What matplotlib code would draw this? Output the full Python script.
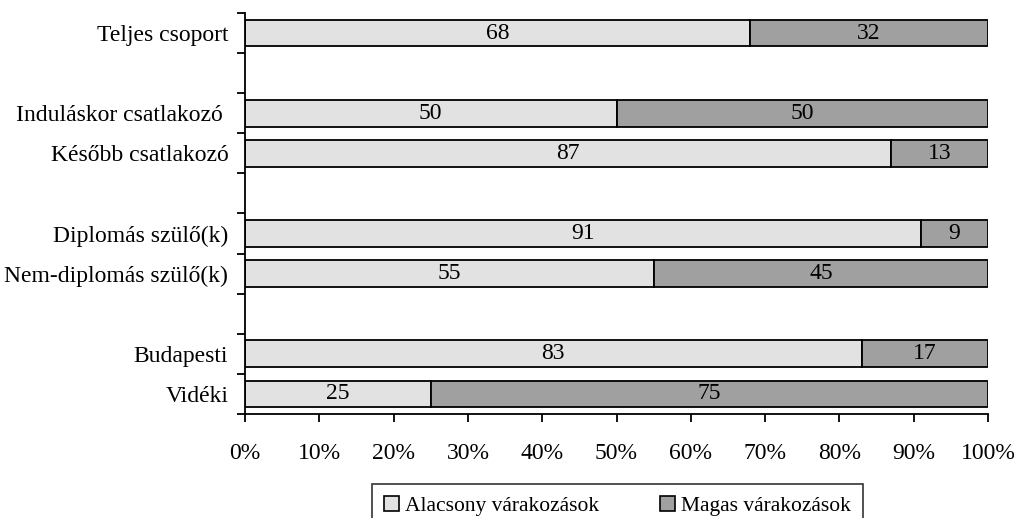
import matplotlib.pyplot as plt
from matplotlib.patches import Patch

plt.rcParams['font.family'] = ['Liberation Serif', 'DejaVu Serif']

# categories from top to bottom, None = empty row between groups
categories = ['Teljes csoport', None, 'Induláskor csatlakozó ', 'Később csatlakozó', None,
              'Diplomás szülő(k)', 'Nem-diplomás szülő(k)', None, 'Budapesti', 'Vidéki']
low = [68, None, 50, 87, None, 91, 55, None, 83, 25]
high = [32, None, 50, 13, None, 9, 45, None, 17, 75]
xticks = [0, 10, 20, 30, 40, 50, 60, 70, 80, 90, 100]
legend_labels = ['Alacsony várakozások', 'Magas várakozások']

light = '#e2e2e2'
dark = '#a0a0a0'
fs = 17

fig = plt.figure(figsize=(10.18, 5.18), dpi=100)
ax = fig.add_axes([245 / 1018, 1 - 414 / 518, (988 - 245) / 1018, (414 - 13) / 518])

for i, (cat, lo, hi) in enumerate(zip(categories, low, high)):
    if cat is None:
        continue
    ax.barh(i, lo, height=0.67, color=light, edgecolor='black', linewidth=1.3)
    ax.barh(i, hi, left=lo, height=0.67, color=dark, edgecolor='black', linewidth=1.3)
    ax.text(lo / 2, i, str(lo), ha='center', va='center', fontsize=fs)
    ax.text(lo + hi / 2, i, str(hi), ha='center', va='center', fontsize=fs)

ax.set_xlim(0, 100)
ax.set_ylim(len(categories) - 0.5, -0.5)

# tick marks at row boundaries, labels at row centres
ax.set_yticks([i - 0.5 for i in range(len(categories) + 1)])
ax.set_yticklabels([])
ax.set_yticks(range(len(categories)), minor=True)
ax.set_yticklabels([c if c else '' for c in categories], minor=True, fontsize=fs)
ax.tick_params(axis='y', which='major', length=6, width=1.3, direction='out')
ax.tick_params(axis='y', which='minor', length=0, pad=12)

ax.set_xticks(xticks)
ax.set_xticklabels([f'{v}%' for v in xticks], fontsize=fs)
ax.tick_params(axis='x', length=6, width=1.3, direction='out', pad=15)

for s in ['top', 'right']:
    ax.spines[s].set_visible(False)
for s in ['left', 'bottom']:
    ax.spines[s].set_linewidth(1.3)

handles = [Patch(facecolor=light, edgecolor='black', linewidth=1.2),
           Patch(facecolor=dark, edgecolor='black', linewidth=1.2)]
leg = fig.legend(handles, legend_labels, loc='upper center', ncol=2,
                 bbox_to_anchor=(617.5 / 1018, 1 - 484 / 518), borderaxespad=0,
                 fontsize=15.5, frameon=True, fancybox=False, edgecolor='black',
                 handlelength=0.7, handleheight=0.7, handletextpad=0.3,
                 columnspacing=2.8, borderpad=0.55)
leg.get_frame().set_linewidth(1.2)

fig.savefig('out.png', dpi=100)
